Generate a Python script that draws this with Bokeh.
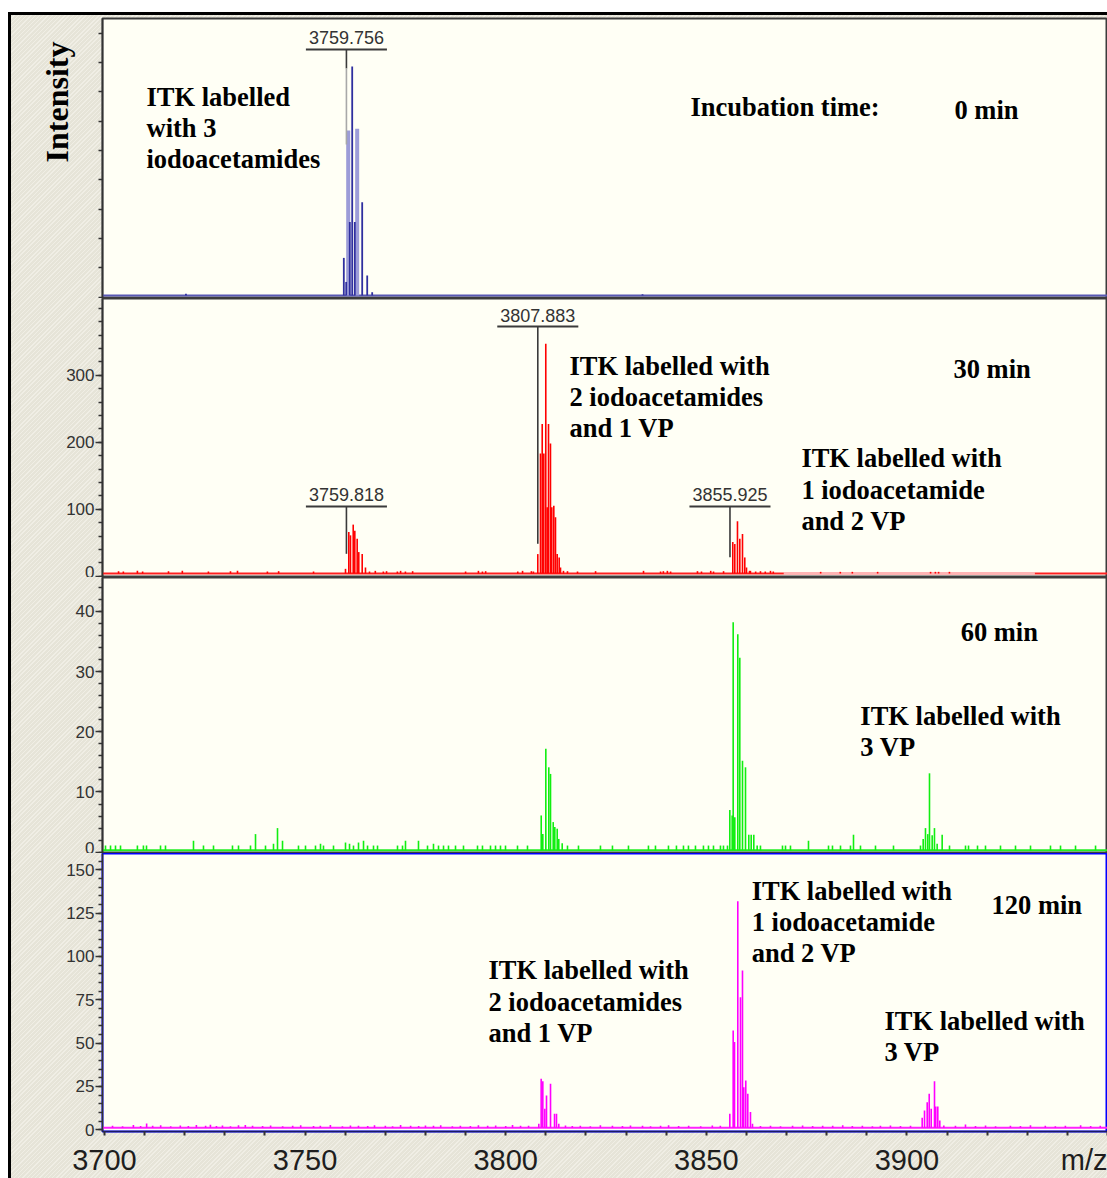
from bokeh.plotting import figure
from bokeh.layouts import column
from bokeh.models import Range1d, FixedTicker, Span, Title, ColumnDataSource
from bokeh.core.properties import value
from bokeh.embed import file_html
from bokeh.resources import INLINE

# ---------------- data ----------------
panel_times = ["0 min", "30 min", "60 min", "120 min"]

# 0 min (blue)
mz_0 = [3720.3, 3759.65, 3760.24, 3761.14, 3761.74, 3762.39, 3764.23, 3765.48, 3766.72, 3834.1]
int_0 = [6, 67, 26, 128, 393, 128, 162, 37, 8.5, 5]
mz_0_light = [3760.74, 3762.98]
int_0_light = [284, 287]
base_0 = 3

# 30 min (red)
mz_30 = [3760.07, 3760.89, 3761.31, 3761.99, 3762.39, 3762.98, 3763.38, 3764.23, 3765.05, 3766.05,
         3808.0, 3808.67, 3809.1, 3809.5, 3809.99, 3810.34, 3810.67, 3811.16, 3811.49, 3811.99,
         3812.41, 3812.83, 3813.33, 3813.66,
         3856.6, 3857.1, 3857.77, 3858.35, 3859.02, 3859.59, 3860.02, 3860.77,
         3703.5, 3704.7, 3708.2, 3709.5, 3715.95, 3719.4, 3725.9, 3731.4, 3733.15, 3740.6,
         3743.4, 3752.1, 3767.5, 3769.5, 3770.3, 3773.0, 3773.8, 3775.0, 3776.8, 3790.0,
         3793.2, 3794.2, 3795.0, 3803.0, 3804.2, 3806.4, 3806.9, 3814.4, 3815.4, 3817.9,
         3822.4, 3834.35, 3838.6, 3839.3, 3840.3, 3841.1, 3847.8, 3848.8, 3851.1, 3851.8,
         3854.3, 3861.0, 3862.3, 3863.5, 3864.7, 3866.0, 3866.7,
         3878.5, 3883.4, 3886.4, 3892.7, 3905.9, 3907.1, 3907.9, 3910.6]
int_30 = [11, 66, 61, 77, 68, 56, 36, 33, 13, 7,
          33, 183, 227, 183, 347, 103, 227, 198, 103, 105,
          88, 33, 28, 13,
          51, 48, 82, 56, 63, 28, 13, 8,
          7.5, 7, 8, 7, 7.5, 8, 7, 7.5, 8, 7,
          7.5, 7, 8, 7, 7.5, 7, 8, 7, 7.5, 7,
          8, 7, 7.5, 7, 8, 7.5, 7, 8, 7.5, 7,
          7.5, 8, 7, 7.5, 8, 7, 7.5, 7, 8, 7,
          7.5, 8, 7, 7.5, 7, 8, 7,
          6.5, 6.5, 6.5, 6.5, 6.5, 6.5, 6.5, 6.5]
base_30 = 4
# stretch of the 30 min trace that is drawn pale in the picture
pale_30 = [3869.3, 3931.9]

# 60 min (green)
mz_60 = [3808.85, 3809.25, 3810.0, 3810.74, 3811.17, 3811.84, 3812.24, 3812.84, 3813.23, 3814.08,
         3855.86, 3856.45, 3856.7, 3857.1, 3857.85, 3858.35, 3859.02, 3859.77, 3860.59, 3861.19,
         3861.84, 3862.68,
         3903.39, 3904.06, 3904.63, 3905.2, 3905.63, 3906.3, 3906.87, 3907.54, 3908.79,
         3700.25, 3701.5, 3702.74, 3703.99, 3708.2, 3709.7, 3710.47, 3713.96, 3715.2, 3722.18,
         3724.67, 3727.17, 3731.9, 3733.4, 3736.39, 3737.64, 3740.13, 3742.12, 3743.12, 3744.37,
         3748.35, 3750.1, 3752.59, 3753.84, 3754.58, 3757.08, 3760.07, 3761.07, 3762.06, 3763.31,
         3764.56, 3765.56, 3767.05, 3768.05, 3773.03, 3774.28, 3775.02, 3778.26, 3780.51, 3782.0,
         3783.25, 3784.5, 3785.74, 3787.49, 3789.48, 3792.97, 3794.21, 3796.21, 3797.46, 3798.7,
         3799.95, 3802.94, 3805.43, 3815.4, 3818.14, 3823.62, 3826.61, 3830.6, 3835.58, 3837.33,
         3840.57, 3842.56, 3844.31, 3845.55, 3847.3, 3849.29, 3850.54, 3851.79, 3853.53, 3854.28,
         3855.28, 3863.5, 3868.99, 3869.74, 3870.98, 3875.47, 3880.46, 3881.45, 3883.45, 3885.94,
         3886.69, 3888.43, 3892.17, 3896.66, 3910.62, 3914.61, 3915.36, 3917.6, 3919.59, 3923.33,
         3927.07, 3930.81, 3935.79, 3938.29, 3942.03, 3947.02]
int_60 = [6.1, 3.0, 17.2, 14.1, 13.0, 5.0, 4.2, 3.9, 2.2, 1.5,
          7.0, 6.1, 38.2, 5.8, 36.2, 32.3, 15.2, 14.1, 2.9, 2.9,
          2.9, 1.1,
          1.1, 2.2, 4.0, 3.0, 13.1, 2.8, 4.0, 1.4, 2.9,
          1.1, 1.1, 1.1, 1.1, 1.1, 1.1, 1.1, 1.1, 1.1, 1.9,
          1.1, 1.1, 1.1, 1.1, 1.1, 3.0, 1.1, 1.4, 4.0, 1.9,
          1.1, 1.1, 1.1, 1.4, 1.1, 1.1, 1.6, 1.4, 1.1, 1.6,
          1.9, 1.1, 1.1, 1.1, 1.1, 1.1, 1.9, 1.9, 1.1, 1.4,
          1.1, 1.1, 1.1, 1.1, 1.1, 1.1, 1.1, 1.1, 1.1, 1.1,
          1.1, 1.1, 1.1, 1.1, 1.1, 1.1, 1.1, 1.1, 1.1, 1.1,
          1.1, 1.1, 1.1, 1.1, 1.1, 1.1, 1.1, 1.1, 1.1, 1.1,
          1.1, 1.1, 1.1, 1.1, 1.1, 1.9, 1.1, 1.1, 1.1, 1.1,
          2.9, 1.1, 1.1, 1.1, 1.1, 1.1, 1.1, 1.1, 1.1, 1.1,
          1.1, 1.1, 1.1, 1.1, 1.1, 1.1]
base_60 = 0.3

# 120 min (magenta)
mz_120 = [3808.25, 3808.84, 3809.25, 3809.75, 3810.17, 3811.17, 3812.17, 3812.66, 3813.23,
          3855.86, 3856.7, 3857.03, 3857.85, 3858.52, 3859.02, 3859.34, 3859.84, 3860.34, 3861.01, 3861.51,
          3903.81, 3904.39, 3905.06, 3905.56, 3906.06, 3906.88, 3907.2, 3907.7, 3908.2, 3909.2,
          3702.0, 3704.5, 3707.2, 3709.0, 3710.5, 3712.0, 3714.0, 3716.5, 3718.9, 3720.9,
          3722.9, 3725.2, 3726.4, 3727.9, 3729.4, 3731.4, 3733.4, 3735.1, 3736.9, 3739.4,
          3741.4, 3744.4, 3746.9, 3748.9, 3752.1, 3753.8, 3756.3, 3759.3, 3761.3, 3763.3,
          3765.6, 3767.3, 3770.0, 3771.8, 3773.8, 3776.3, 3778.3, 3780.0, 3782.0, 3783.8,
          3786.7, 3788.7, 3791.2, 3793.2, 3795.5, 3797.5, 3800.0, 3801.7, 3803.7, 3805.7,
          3814.9, 3816.6, 3818.6, 3821.1, 3823.6, 3826.6, 3829.1, 3831.1, 3834.1, 3836.1,
          3838.6, 3840.6, 3843.1, 3845.6, 3848.6, 3851.5, 3853.5, 3863.5, 3866.0, 3868.5,
          3871.5, 3874.0, 3876.5, 3879.0, 3881.5, 3884.0, 3886.4, 3888.9, 3891.4, 3893.4,
          3895.9, 3898.4, 3900.9, 3912.1, 3914.6, 3917.1, 3919.6, 3922.1, 3925.8, 3928.3,
          3930.8, 3934.5, 3937.0, 3939.5, 3943.3, 3945.8, 3948.2]
int_120 = [3.5, 29.4, 28.0, 12.1, 19.8, 26.5, 9.2, 9.2, 3.5,
           9.2, 57.3, 50.6, 131.9, 76.5, 91.9, 24.6, 28.4, 20.8, 10.2, 3.5,
           6.9, 11.1, 15.9, 20.8, 12.1, 28.0, 13.4, 13.4, 5.4, 2.5,
           2.4, 2.1, 2.8, 2.2, 3.6, 2.3, 2.6, 2.1, 2.5, 2.2,
           2.7, 2.3, 2.9, 2.2, 2.5, 2.1, 2.6, 2.8, 2.3, 2.2,
           2.5, 2.1, 2.4, 2.6, 2.2, 2.3, 2.7, 2.1, 2.5, 2.4,
           2.2, 2.6, 2.3, 2.1, 2.7, 2.4, 2.2, 2.5, 2.3, 2.6,
           2.1, 2.4, 2.2, 2.6, 2.3, 2.5, 2.2, 2.7, 2.4, 2.3,
           2.5, 2.2, 2.4, 2.1, 2.6, 2.3, 2.2, 2.5, 2.4, 2.1,
           2.3, 2.6, 2.2, 2.4, 2.1, 2.5, 2.3, 2.2, 2.4, 2.1,
           2.3, 2.5, 2.2, 2.4, 2.3, 2.6, 2.2, 2.4, 2.1, 2.3,
           2.5, 2.2, 2.4, 2.3, 3.1, 2.2, 2.5, 2.1, 2.4, 2.2,
           2.6, 2.3, 2.1, 2.4, 2.6, 2.2, 2.3]
base_120 = 1.2

# peak annotations: label text (m/z values written on the spectrum)
peak_labels_0 = ["3759.756"]
peak_labels_30 = ["3759.818", "3807.883", "3855.925"]

# ---------------- layout ----------------
X_START, X_END = 3699.5, 3950.0
FIG_W = 1096
BG = "#FFFFF5"

def baseline(p, level, color):
    p.add_layout(Span(location=level, dimension="width", line_color=color,
                      line_width=2, level="underlay"))

def spikes(p, mz, h, base, color, width=1.6, alpha=1.0):
    src = ColumnDataSource(dict(x=mz, top=h, base=[base] * len(mz)))
    p.segment(x0="x", y0="base", x1="x", y1="top", source=src,
              line_color=color, line_width=width, line_alpha=alpha)

def texts(p, xs, ys, ts, size="26.5px"):
    src = ColumnDataSource(dict(x=xs, y=ys, t=ts))
    p.text(x="x", y="y", text="t", source=src, text_font=value("Liberation Serif"),
           text_font_style="bold", text_font_size=size, text_align="left",
           text_baseline="top", text_color="black", text_line_height=1.04)

def peak_marker(p, label, x, text_y, bar_y, bottom, half=10.1, mid=None):
    src = ColumnDataSource(dict(x=[x], y=[text_y], t=[label]))
    p.text(x="x", y="y", text="t", source=src, text_font=value("Liberation Sans"),
           text_font_size="18px", text_align="center", text_baseline="alphabetic",
           text_color="#333333")
    p.segment(x0=[x - half], y0=[bar_y], x1=[x + half], y1=[bar_y],
              line_color="#3a3a3a", line_width=2)
    if mid is None:
        p.segment(x0=[x], y0=[bar_y], x1=[x], y1=[bottom], line_color="#3a3a3a", line_width=1.6)
    else:
        p.segment(x0=[x], y0=[bar_y], x1=[x], y1=[mid], line_color="#3a3a3a", line_width=1.6)
        p.segment(x0=[x], y0=[mid], x1=[x], y1=[bottom], line_color="#a8a8a8", line_width=1.6)

def make_panel(height, yr, ticks, minor, labels=True, top=0, bottom=0,
               outline="#3c3c3c", xaxis=False):
    p = figure(width=FIG_W, height=height, x_range=Range1d(X_START, X_END),
               y_range=Range1d(*yr), output_backend="svg", toolbar_location=None,
               x_axis_location="below" if xaxis else None, y_axis_location="left")
    p.min_border_left = 91
    p.min_border_right = 0
    p.min_border_top = top
    p.min_border_bottom = bottom
    p.grid.visible = False
    p.background_fill_color = BG
    p.border_fill_alpha = 0
    p.outline_line_color = outline
    p.outline_line_width = 2
    ax = p.yaxis[0]
    ax.ticker = FixedTicker(ticks=ticks, minor_ticks=minor)
    ax.axis_line_color = "#333333"
    ax.axis_line_width = 1.5
    ax.major_tick_line_color = "#333333"
    ax.minor_tick_line_color = "#333333"
    ax.major_tick_line_width = 1.5
    ax.minor_tick_line_width = 1.5
    ax.major_tick_in = 0
    ax.minor_tick_in = 0
    ax.major_tick_out = 7 if labels else 4
    ax.minor_tick_out = 4
    ax.major_label_standoff = 1
    ax.major_label_text_font = "Liberation Sans"
    ax.major_label_text_font_size = "17px"
    ax.major_label_text_color = "#333333"
    if not labels:
        ax.major_label_overrides = {t: "" for t in ticks}
    return p

# panel 1 : 0 min
p1 = make_panel(283, (-2.2, 475), list(range(0, 451, 50)), [], labels=False, top=3)
baseline(p1, base_0, "#5858B4")
spikes(p1, mz_0_light, int_0_light, base_0, "#9C9CD8", width=4)
spikes(p1, mz_0, int_0, base_0, "#2F2F9F", width=1.8)
peak_marker(p1, peak_labels_0[0], 3760.3, 442, 422.2, 260.3, mid=389.8)
texts(p1, [3710.47, 3846.06, 3911.86], [367.6, 348.9, 343.8],
      ["ITK labelled\nwith 3\niodoacetamides", "Incubation time:", panel_times[0]])
p1.add_layout(Title(text="Intensity", align="right", offset=23, standoff=47,
                    text_font="Liberation Serif", text_font_style="bold",
                    text_font_size="32px", text_color="black"), "left")

# panel 2 : 30 min
p2 = make_panel(279, (-1.94, 414.5), [0, 100, 200, 300], list(range(0, 411, 20)))
baseline(p2, base_30, "#FF2020")
p2.segment(x0=[pale_30[0]], y0=[base_30], x1=[pale_30[1]], y1=[base_30],
           line_color="#FFB4B4", line_width=3)
spikes(p2, mz_30, int_30, base_30, "#FF0000", width=1.6)
peak_marker(p2, peak_labels_30[0], 3760.3, 122, 104, 33.4)
peak_marker(p2, peak_labels_30[1], 3808.0, 389.6, 372.7, 48.4)
peak_marker(p2, peak_labels_30[2], 3855.9, 122, 104, 28.4)
texts(p2, [3911.6, 3815.9, 3873.7], [332.4, 336.4, 198.1],
      [panel_times[1], "ITK labelled with\n2 iodoacetamides\nand 1 VP",
       "ITK labelled with\n1 iodoacetamide\nand 2 VP"])

# panel 3 : 60 min
p3 = make_panel(276, (-0.22, 45.63), [0, 10, 20, 30, 40], list(range(0, 46, 2)))
baseline(p3, base_60, "#22EE22")
spikes(p3, mz_60, int_60, base_60, "#11EE11", width=1.6)
texts(p3, [3913.4, 3888.4], [39.15, 25.15], [panel_times[2], "ITK labelled with\n3 VP"])

# panel 4 : 120 min
p4 = make_panel(325, (-0.98, 159.4), [0, 25, 50, 75, 100, 125, 150], list(range(0, 160, 5)),
                bottom=47, outline="#0000FF", xaxis=True)
baseline(p4, base_120, "#FF22FF")
spikes(p4, mz_120, int_120, base_120, "#FF00FF", width=1.6)
texts(p4, [3921.1, 3861.3, 3795.7, 3894.4], [138.1, 146.7, 100.6, 71.7],
      [panel_times[3], "ITK labelled with\n1 iodoacetamide\nand 2 VP",
       "ITK labelled with\n2 iodoacetamides\nand 1 VP", "ITK labelled with\n3 VP"])
xa = p4.xaxis[0]
xa.ticker = FixedTicker(ticks=[3700, 3750, 3800, 3850, 3900, 3945],
                        minor_ticks=list(range(3700, 3951, 10)))
xa.major_label_overrides = {3945: "m/z"}
xa.major_tick_out = 0
xa.major_tick_in = 0
xa.minor_tick_out = 4
xa.minor_tick_in = 0
xa.minor_tick_line_color = "#333333"
xa.minor_tick_line_width = 2
xa.axis_line_color = "#1a1a66"
xa.axis_line_width = 1.5
xa.major_label_standoff = 8
xa.major_label_text_font = "Liberation Sans"
xa.major_label_text_font_size = "29px"
xa.major_label_text_color = "#1e1e1e"

layout = column(p1, p2, p3, p4, spacing=0, styles={
    "margin-top": "12px", "margin-left": "8px",
    "border-top": "3px solid #000", "border-left": "3px solid #000",
    "background-color": "#E8E6DA",
    "background-image": "repeating-linear-gradient(135deg, #E6E4D8 0px, #E6E4D8 2px, #F0EEE5 2px, #F0EEE5 3px)",
})

open("out.html", "w").write(file_html(layout, INLINE))
